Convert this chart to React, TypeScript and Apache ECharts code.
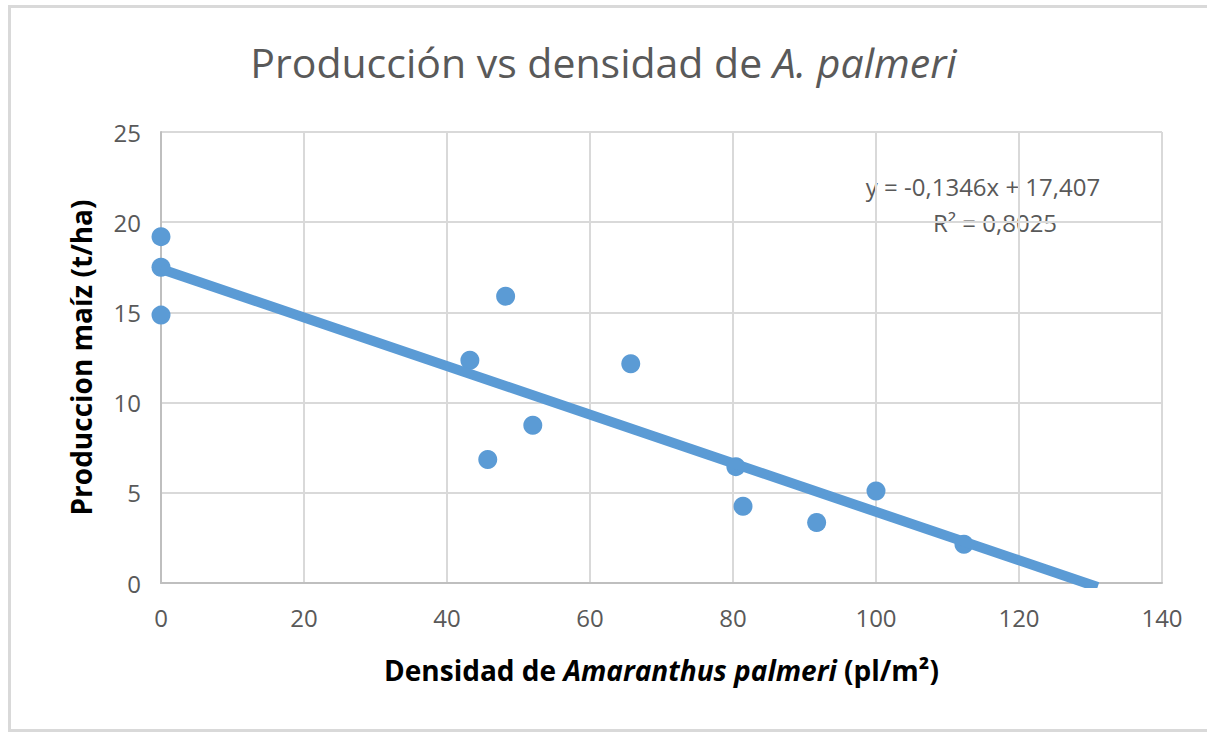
import React, { useEffect, useRef } from "react";
import * as echarts from "echarts";

const densidad = [0, 0, 0, 43.2, 48.2, 45.7, 52, 65.7, 80.4, 81.4, 91.7, 100, 112.3];
const produccion = [19.2, 17.5, 14.85, 12.35, 15.9, 6.85, 8.75, 12.15, 6.45, 4.25, 3.35, 5.1, 2.15];
const pendiente = -0.1346;
const intercepto = 17.407;
const trendX = [0, 131];
const xTicks = [0, 20, 40, 60, 80, 100, 120, 140];
const yTicks = [0, 5, 10, 15, 20, 25];
const ecuacion = "y = -0,1346x + 17,407";
const r2 = "R² = 0,8025";

const FONT = "'Open Sans', 'Noto Sans', sans-serif";

export default function App() {
  const ref = useRef<HTMLDivElement>(null);
  useEffect(() => {
    if (!ref.current) return;
    const chart = echarts.init(ref.current, undefined, { renderer: "svg" });
    const scatterData = densidad.map((x, i) => [x, produccion[i]]);
    const trendData = trendX.map((x) => [x, pendiente * x + intercepto]);
    chart.setOption({
      animation: false,
      backgroundColor: "#ffffff",
      textStyle: { fontFamily: FONT },
      title: {
        text: "{a|Producción vs densidad de }{b|A. palmeri}",
        left: "center",
        top: 36,
        textStyle: {
          fontWeight: "normal",
          rich: {
            a: { fontSize: 41, color: "#595959", fontWeight: "normal", fontFamily: FONT },
            b: { fontSize: 41, color: "#595959", fontWeight: "normal", fontStyle: "italic", fontFamily: FONT },
          },
        },
      },
      grid: { left: 161, right: 45, top: 132, bottom: 149, containLabel: false },
      xAxis: {
        type: "value",
        min: xTicks[0],
        max: xTicks[xTicks.length - 1],
        interval: 20,
        axisLine: { show: true, lineStyle: { color: "#bfbfbf", width: 2 } },
        axisTick: { show: false },
        splitLine: { show: true, lineStyle: { color: "#d9d9d9", width: 2 } },
        axisLabel: { color: "#595959", fontSize: 24, margin: 22, fontFamily: FONT },
        name: "{b|Densidad de }{i|Amaranthus palmeri}{b| (pl/m²)}",
        nameLocation: "middle",
        nameGap: 73,
        nameTextStyle: {
          rich: {
            b: { fontSize: 28, fontWeight: "bold", color: "#000000", fontFamily: FONT },
            i: { fontSize: 28, fontWeight: "bold", fontStyle: "italic", color: "#000000", fontFamily: FONT },
          },
        },
      },
      yAxis: {
        type: "value",
        min: yTicks[0],
        max: yTicks[yTicks.length - 1],
        interval: 5,
        axisLine: { show: true, lineStyle: { color: "#bfbfbf", width: 2 } },
        axisTick: { show: false },
        splitLine: { show: true, lineStyle: { color: "#d9d9d9", width: 2 } },
        axisLabel: { color: "#595959", fontSize: 24, margin: 20, fontFamily: FONT },
        name: "Produccion maíz (t/ha)",
        nameLocation: "middle",
        nameGap: 66,
        nameTextStyle: { fontSize: 28, fontWeight: "bold", color: "#000000", fontFamily: FONT },
      },
      graphic: [
        {
          type: "rect",
          shape: { x: 9.5, y: 6.5, width: 1200, height: 724 },
          style: { fill: "none", stroke: "#d9d9d9", lineWidth: 3 },
          silent: true,
        },
        {
          type: "text",
          x: 983,
          y: 186,
          style: {
            text: ecuacion,
            fill: "#595959",
            font: `24px ${FONT}`,
            textAlign: "center",
            textVerticalAlign: "middle",
          },
        },
        {
          type: "text",
          x: 995,
          y: 222,
          style: {
            text: r2,
            fill: "#595959",
            font: `24px ${FONT}`,
            textAlign: "center",
            textVerticalAlign: "middle",
          },
        },
      ],
      series: [
        {
          type: "line",
          data: trendData,
          symbol: "none",
          clip: true,
          lineStyle: { color: "#5b9bd5", width: 10, cap: "butt" },
          z: 3,
        },
        {
          type: "scatter",
          data: scatterData,
          symbol: "circle",
          symbolSize: 19,
          itemStyle: { color: "#5b9bd5", opacity: 1 },
          z: 2,
        },
      ],
    });
    return () => chart.dispose();
  }, []);
  return (
    <div
      ref={ref}
      style={{ position: "fixed", left: 0, top: 0, width: 1207, height: 732 }}
    />
  );
}
